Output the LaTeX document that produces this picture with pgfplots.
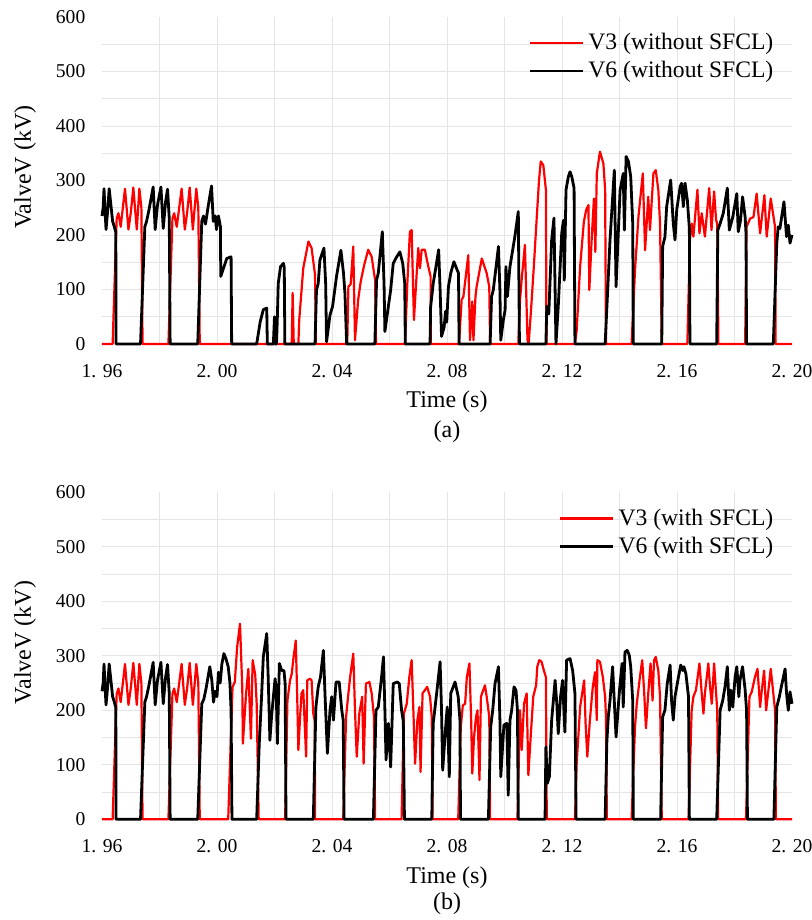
\documentclass[border=0pt]{standalone}
\usepackage{fontspec}
\setmainfont{Liberation Serif}
\usepackage{pgfplots}
\pgfplotsset{compat=1.18}

\pgfplotsset{
  valve/.style={
    scale only axis,
    width=345pt, height=163.5pt,
    xmin=1.96, xmax=2.20, ymin=0, ymax=600,
    clip=false,
    axis line style={draw=none},
    major tick length=0pt, minor tick length=0pt,
    xtick={1.96,2.00,2.04,2.08,2.12,2.16,2.20},
    xticklabels={1. 96,2. 00,2. 04,2. 08,2. 12,2. 16,2. 20},
    minor xtick={1.98,2.00,2.02,2.04,2.06,2.08,2.10,2.12,2.14,2.16,2.18},
    ytick={0,100,200,300,400,500,600},
    minor ytick={50,100,150,200,250,300,350,400,450,500,550},
    xminorgrids, yminorgrids,
    minor grid style={draw=gray!20, line width=0.5pt},
    /pgf/number format/assume math mode=true,
    tick label style={font=\fontsize{9.8}{11}\selectfont},
    xticklabel style={yshift=-6.5pt},
    yticklabel style={xshift=-4.8pt},
    label style={font=\fontsize{12}{14}\selectfont},
    xlabel={Time (s)},
    ylabel={ValveV (kV)},
    xlabel style={at={(axis description cs:0.5,-0.1774)}, anchor=center},
    ylabel style={at={(axis description cs:-0.1116,0.541)}, anchor=center},
    legend style={draw=none, fill=none, at={(rel axis cs:0.988,0.975)}, anchor=north east,
      font=\fontsize{11.8}{14}\selectfont, row sep=0.2pt},
    legend cell align=left,
    legend image code/.code={\draw[##1] (0pt,0pt) -- (26.5pt,0pt);},
  },
  v3/.style={color=red, line width=1.1pt, line join=round, mark=none},
  v6/.style={color=black, line width=1.4pt, line join=round, mark=none},
}

\begin{document}
\begin{tikzpicture}
\useasboundingbox (-51pt,-288pt) rectangle (355pt,172pt);

% (a) without SFCL
\begin{axis}[valve]
\addplot[v3] coordinates {
(1.9600,0) (1.9637,0) (1.9651,230) (1.9657,240) (1.9665,215) (1.9680,285) (1.9692,210) (1.9700,240) (1.9709,287) (1.9721,210) (1.9730,285) (1.9737,250) (1.9741,0)
(1.9831,0) (1.9845,230) (1.9851,240) (1.9860,215) (1.9877,285) (1.9888,210) (1.9896,240) (1.9905,287) (1.9916,210) (1.9928,285) (1.9935,250) (1.9940,0)
(2.0260,0) (2.0263,94) (2.0267,0)
(2.0283,0) (2.0286,44) (2.0300,139) (2.0318,188) (2.0329,176) (2.0341,127) (2.0344,0)
(2.0453,0) (2.0457,105) (2.0465,110) (2.0474,179) (2.0480,7) (2.0491,81) (2.0500,115) (2.0512,145) (2.0526,173) (2.0538,160) (2.0550,117) (2.0553,0)
(2.0654,0) (2.0662,111) (2.0671,206) (2.0677,209) (2.0685,44) (2.0694,124) (2.0700,176) (2.0706,139) (2.0712,173) (2.0723,173) (2.0735,142) (2.0743,124) (2.0744,0)
(2.0842,0) (2.0848,56) (2.0851,81) (2.0857,87) (2.0874,163) (2.0880,7) (2.0888,78) (2.0892,7) (2.0899,87) (2.0903,105) (2.0921,157) (2.0938,130) (2.0947,105) (2.0950,0)
(2.1048,0) (2.1054,81) (2.1060,120) (2.1071,182) (2.1080,7) (2.1084,0) (2.1093,68) (2.1102,142) (2.1111,222) (2.1120,300) (2.1126,335) (2.1135,328) (2.1144,283) (2.1146,0)
(2.1245,0) (2.1251,25) (2.1263,142) (2.1276,224) (2.1284,246) (2.1292,255) (2.1295,99) (2.1303,190) (2.1311,267) (2.1316,169) (2.1321,313) (2.1332,353) (2.1344,331) (2.1350,283) (2.1353,0)
(2.1442,0) (2.1454,136) (2.1466,234) (2.1481,313) (2.1489,172) (2.1500,270) (2.1506,209) (2.1518,313) (2.1526,319) (2.1535,283) (2.1541,221) (2.1547,0)
(2.1636,0) (2.1645,191) (2.1651,221) (2.1657,197) (2.1671,283) (2.1678,203) (2.1686,240) (2.1697,197) (2.1712,286) (2.1720,209) (2.1729,280) (2.1736,227) (2.1740,221) (2.1744,0)
(2.1837,0) (2.1842,215) (2.1854,230) (2.1866,233) (2.1877,276) (2.1889,203) (2.1904,273) (2.1912,197) (2.1926,267) (2.1941,215) (2.1943,0) (2.2000,0)
};
\addlegendentry{V3 (without SFCL)}
\addplot[v6] coordinates {
(1.9600,235) (1.9604,250) (1.9607,285) (1.9611,240) (1.9614,210) (1.9619,240) (1.9625,285) (1.9630,260) (1.9637,225) (1.9643,215) (1.9648,205) (1.9649,0)
(1.9734,0) (1.9749,215) (1.9755,225) (1.9763,245) (1.9778,288) (1.9785,210) (1.9793,255) (1.9805,288) (1.9813,212) (1.9821,260) (1.9828,284) (1.9834,230) (1.9837,0)
(1.9933,0) (1.9947,225) (1.9953,235) (1.9960,220) (1.9970,255) (1.9981,290) (1.9987,225) (1.9994,235) (1.9998,210) (2.0005,235) (2.0012,215) (2.0013,124) (2.0020,135) (2.0034,157) (2.0049,160) (2.0051,0)
(2.0138,0) (2.0150,40) (2.0161,63) (2.0173,66) (2.0175,0)
(2.0196,0) (2.0200,50) (2.0203,0) (2.0207,0) (2.0210,50) (2.0213,111) (2.0221,142) (2.0231,148) (2.0234,140) (2.0236,0)
(2.0341,0) (2.0346,99) (2.0352,111) (2.0358,154) (2.0372,176) (2.0378,110) (2.0381,4) (2.0393,53) (2.0402,69) (2.0416,125) (2.0431,172) (2.0440,130) (2.0445,93) (2.0451,0)
(2.0549,0) (2.0555,117) (2.0561,130) (2.0575,206) (2.0581,111) (2.0584,23) (2.0596,69) (2.0604,99) (2.0613,148) (2.0625,160) (2.0636,169) (2.0646,148) (2.0653,111) (2.0655,0)
(2.0741,0) (2.0743,68) (2.0752,111) (2.0758,130) (2.0771,173) (2.0776,100) (2.0781,14) (2.0790,31) (2.0795,60) (2.0799,40) (2.0805,105) (2.0813,130) (2.0824,151) (2.0836,135) (2.0840,130) (2.0842,0)
(2.0950,0) (2.0955,87) (2.0961,99) (2.0979,179) (2.0984,99) (2.0987,7) (2.0996,44) (2.1002,62) (2.1005,142) (2.1010,87) (2.1019,142) (2.1036,197) (2.1048,243) (2.1052,0)
(2.1144,0) (2.1147,69) (2.1154,55) (2.1164,191) (2.1172,231) (2.1179,0) (2.1187,69) (2.1199,203) (2.1205,227) (2.1208,117) (2.1214,283) (2.1222,307) (2.1228,316) (2.1234,307) (2.1242,286) (2.1245,0)
(2.1350,0) (2.1356,66) (2.1367,191) (2.1382,319) (2.1388,105) (2.1402,282) (2.1413,313) (2.1417,209) (2.1423,344) (2.1431,335) (2.1439,307) (2.1446,221) (2.1448,0)
(2.1547,0) (2.1550,179) (2.1558,196) (2.1564,252) (2.1578,301) (2.1587,221) (2.1593,191) (2.1599,246) (2.1611,289) (2.1616,295) (2.1622,252) (2.1628,295) (2.1636,264) (2.1643,212) (2.1645,0)
(2.1738,0) (2.1742,209) (2.1750,221) (2.1761,240) (2.1775,286) (2.1782,209) (2.1794,233) (2.1808,276) (2.1813,206) (2.1821,227) (2.1828,270) (2.1837,233) (2.1840,203) (2.1842,0)
(2.1935,0) (2.1947,185) (2.1952,215) (2.1958,212) (2.1972,261) (2.1981,197) (2.1987,218) (2.1993,185) (2.2000,200)
};
\addlegendentry{V6 (without SFCL)}
\node[font=\fontsize{12}{14}\selectfont] at (axis description cs:0.5,-0.269) {(a)};
\end{axis}

% (b) with SFCL
\begin{axis}[valve, at={(0pt,-237.65pt)}]
\addplot[v3] coordinates {
(1.9600,0) (1.9637,0) (1.9651,230) (1.9657,240) (1.9665,215) (1.9680,285) (1.9692,210) (1.9700,240) (1.9709,287) (1.9721,210) (1.9730,285) (1.9737,250) (1.9741,0)
(1.9831,0) (1.9845,230) (1.9851,240) (1.9860,215) (1.9877,285) (1.9888,210) (1.9896,240) (1.9905,287) (1.9916,210) (1.9928,285) (1.9935,250) (1.9940,0)
(2.0039,0) (2.0054,243) (2.0062,252) (2.0070,316) (2.0080,359) (2.0088,240) (2.0090,139) (2.0101,230) (2.0109,276) (2.0118,148) (2.0124,292) (2.0133,265) (2.0138,212) (2.0145,0)
(2.0237,0) (2.0245,218) (2.0254,255) (2.0260,267) (2.0265,292) (2.0274,328) (2.0279,225) (2.0283,127) (2.0289,188) (2.0294,231) (2.0300,237) (2.0310,115) (2.0314,255) (2.0323,258) (2.0329,255) (2.0335,194) (2.0340,180) (2.0341,0)
(2.0439,0) (2.0449,188) (2.0457,231) (2.0463,261) (2.0474,304) (2.0480,200) (2.0486,115) (2.0495,194) (2.0505,225) (2.0510,102) (2.0518,249) (2.0530,252) (2.0538,231) (2.0546,188) (2.0550,0)
(2.0642,0) (2.0650,194) (2.0660,212) (2.0669,261) (2.0677,292) (2.0683,200) (2.0689,102) (2.0697,182) (2.0704,206) (2.0708,87) (2.0715,231) (2.0723,237) (2.0731,243) (2.0741,225) (2.0747,188) (2.0750,0)
(2.0839,0) (2.0848,170) (2.0855,209) (2.0863,212) (2.0869,261) (2.0878,286) (2.0884,182) (2.0888,84) (2.0894,151) (2.0901,188) (2.0906,200) (2.0913,72) (2.0918,225) (2.0926,237) (2.0932,246) (2.0938,225) (2.0947,188) (2.0950,0)
(2.1045,0) (2.1054,200) (2.1060,127) (2.1068,212) (2.1077,231) (2.1083,81) (2.1091,151) (2.1100,225) (2.1110,246) (2.1114,280) (2.1121,292) (2.1129,289) (2.1137,273) (2.1144,261) (2.1147,0)
(2.1245,0) (2.1251,102) (2.1263,206) (2.1277,255) (2.1282,176) (2.1288,115) (2.1297,182) (2.1307,243) (2.1315,270) (2.1321,182) (2.1323,292) (2.1332,289) (2.1342,261) (2.1350,225) (2.1353,188) (2.1356,0)
(2.1442,0) (2.1454,170) (2.1460,212) (2.1471,261) (2.1479,292) (2.1486,231) (2.1492,167) (2.1500,231) (2.1508,286) (2.1515,218) (2.1520,292) (2.1526,298) (2.1535,273) (2.1541,225) (2.1547,0)
(2.1640,0) (2.1651,200) (2.1657,225) (2.1666,237) (2.1678,286) (2.1686,231) (2.1692,194) (2.1697,231) (2.1709,286) (2.1715,243) (2.1721,212) (2.1729,286) (2.1736,231) (2.1740,200) (2.1743,0)
(2.1840,0) (2.1852,225) (2.1860,234) (2.1871,261) (2.1880,276) (2.1889,206) (2.1895,237) (2.1903,273) (2.1910,200) (2.1918,237) (2.1926,276) (2.1935,231) (2.1941,200) (2.1944,0) (2.2000,0)
};
\addlegendentry{V3 (with SFCL)}
\addplot[v6] coordinates {
(1.9600,235) (1.9604,250) (1.9607,285) (1.9611,240) (1.9614,210) (1.9619,240) (1.9625,285) (1.9630,260) (1.9637,225) (1.9643,215) (1.9648,205) (1.9649,0)
(1.9734,0) (1.9749,215) (1.9755,225) (1.9763,245) (1.9778,288) (1.9785,210) (1.9793,255) (1.9805,288) (1.9813,212) (1.9821,260) (1.9828,284) (1.9834,230) (1.9837,0)
(1.9933,0) (1.9947,212) (1.9954,220) (1.9962,240) (1.9970,265) (1.9975,280) (1.9982,255) (1.9988,215) (1.9993,235) (2.0000,225) (2.0005,270) (2.0011,250) (2.0017,285) (2.0024,304) (2.0031,295) (2.0039,280) (2.0045,250) (2.0049,200) (2.0052,0)
(2.0138,0) (2.0147,139) (2.0155,225) (2.0161,298) (2.0173,341) (2.0178,261) (2.0184,145) (2.0190,190) (2.0202,258) (2.0206,237) (2.0210,139) (2.0217,286) (2.0225,273) (2.0233,273) (2.0237,249) (2.0240,0)
(2.0335,0) (2.0344,206) (2.0352,243) (2.0360,261) (2.0370,310) (2.0376,225) (2.0384,121) (2.0393,200) (2.0399,225) (2.0405,182) (2.0414,252) (2.0425,252) (2.0434,200) (2.0439,182) (2.0442,0)
(2.0544,0) (2.0553,200) (2.0561,206) (2.0573,264) (2.0579,298) (2.0584,200) (2.0588,109) (2.0596,176) (2.0604,96) (2.0613,249) (2.0627,252) (2.0634,249) (2.0642,200) (2.0648,180) (2.0652,0)
(2.0747,0) (2.0752,176) (2.0764,231) (2.0776,289) (2.0781,200) (2.0785,90) (2.0797,182) (2.0801,206) (2.0808,78) (2.0813,231) (2.0828,252) (2.0839,225) (2.0845,182) (2.0847,0)
(2.0944,0) (2.0952,170) (2.0959,200) (2.0967,249) (2.0979,280) (2.0984,182) (2.0987,78) (2.0994,139) (2.0998,173) (2.1008,176) (2.1013,44) (2.1019,182) (2.1025,200) (2.1033,243) (2.1040,237) (2.1045,200) (2.1048,0)
(2.1141,0) (2.1144,133) (2.1149,66) (2.1156,78) (2.1164,182) (2.1176,255) (2.1182,212) (2.1187,157) (2.1195,225) (2.1202,255) (2.1210,160) (2.1216,292) (2.1228,295) (2.1237,273) (2.1245,231) (2.1249,0)
(2.1350,0) (2.1356,142) (2.1361,188) (2.1367,218) (2.1376,280) (2.1388,151) (2.1400,237) (2.1409,286) (2.1413,206) (2.1419,307) (2.1427,310) (2.1434,301) (2.1439,280) (2.1446,218) (2.1448,0)
(2.1543,0) (2.1550,188) (2.1558,200) (2.1566,249) (2.1576,283) (2.1581,218) (2.1587,182) (2.1593,225) (2.1605,261) (2.1613,283) (2.1620,273) (2.1624,280) (2.1631,267) (2.1640,225) (2.1643,0)
(2.1738,0) (2.1750,200) (2.1759,218) (2.1767,243) (2.1775,280) (2.1782,200) (2.1787,237) (2.1794,206) (2.1802,261) (2.1808,280) (2.1815,225) (2.1819,255) (2.1828,280) (2.1837,237) (2.1842,200) (2.1845,0)
(2.1937,0) (2.1947,206) (2.1956,225) (2.1964,246) (2.1976,276) (2.1981,231) (2.1987,200) (2.1993,234) (2.2000,212)
};
\addlegendentry{V6 (with SFCL)}
\node[font=\fontsize{12}{14}\selectfont] at (axis description cs:0.5,-0.257) {(b)};
\end{axis}
\end{tikzpicture}
\end{document}
